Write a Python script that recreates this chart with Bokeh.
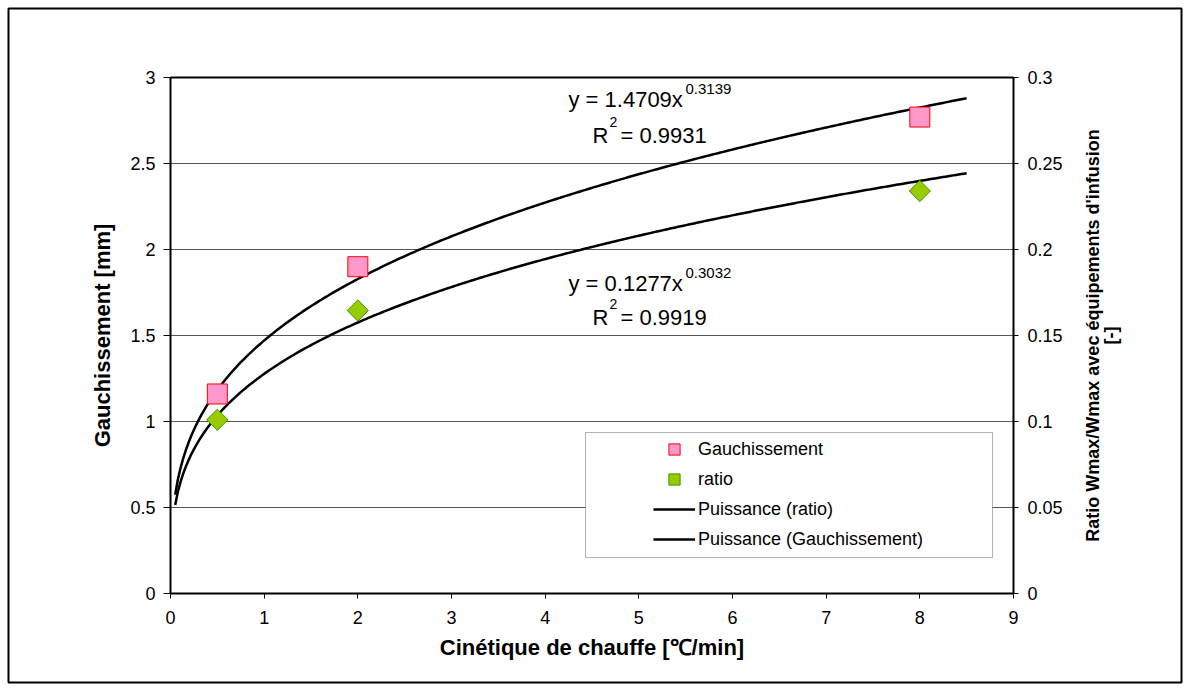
import numpy as np
from bokeh.plotting import figure
from bokeh.models import (Range1d, LinearAxis, FixedTicker, Label, Legend, LegendItem,
                          BoxAnnotation)
from bokeh.embed import file_html
from bokeh.resources import INLINE

# ---------------- data ----------------
x_rate = [0.5, 2.0, 8.0]                 # Cinétique de chauffe [°C/min]
gauchissement = [1.16, 1.90, 2.77]       # mm (left axis)
ratio = [0.101, 0.1645, 0.234]           # [-] (right axis)

# power trendlines as displayed on the chart
g_coef, g_exp, g_r2 = 1.4709, 0.3139, 0.9931
r_coef, r_exp, r_r2 = 0.1277, 0.3032, 0.9919
fit_x_start, fit_x_end = 0.05, 8.5

x_ticks = [0, 1, 2, 3, 4, 5, 6, 7, 8, 9]
x_tick_labels = ["0", "1", "2", "3", "4", "5", "6", "7", "8", "9"]
y_ticks = [0, 0.5, 1, 1.5, 2, 2.5, 3]
y_tick_labels = ["0", "0.5", "1", "1.5", "2", "2.5", "3"]
y2_ticks = [0, 0.05, 0.1, 0.15, 0.2, 0.25, 0.3]
y2_tick_labels = ["0", "0.05", "0.1", "0.15", "0.2", "0.25", "0.3"]
y2_title = ["Ratio Wmax/Wmax avec équipements d'infusion", "[-]"]

X_MIN, X_MAX = 0, 9
Y_MIN, Y_MAX = 0, 3
Y2_MIN, Y2_MAX = 0, 0.3

FONT = "Liberation Sans"

fit_x = np.linspace(fit_x_start, fit_x_end, 300)
g_fit = g_coef * fit_x ** g_exp
r_fit = r_coef * fit_x ** r_exp

# The figure frame is the outer chart border; the plot area (0..9 x 0..3) sits inside it.
# plot area in pixels: x 170..1013, y 77..593 ; outer border: x 8..1181, y 8..682
px_per_x = (1013 - 170) / (X_MAX - X_MIN)
px_per_y = (593 - 77) / (Y_MAX - Y_MIN)
xr = Range1d(X_MIN - (170 - 8) / px_per_x, X_MAX + (1181 - 1013) / px_per_x)
yr = Range1d(Y_MIN - (682 - 593) / px_per_y, Y_MAX + (77 - 8) / px_per_y)
k2 = (Y2_MAX - Y2_MIN) / (Y_MAX - Y_MIN)

p = figure(width=1189, height=690, output_backend="svg", toolbar_location=None,
           x_range=xr, y_range=yr, x_axis_location=None, y_axis_location=None,
           min_border_left=8, min_border_right=8, min_border_top=8, min_border_bottom=8)
p.extra_y_ranges = {"right": Range1d(Y2_MIN + (yr.start - Y_MIN) * k2, Y2_MIN + (yr.end - Y_MIN) * k2)}

p.outline_line_color = "black"
p.outline_line_width = 2
p.background_fill_color = "white"
p.border_fill_color = "white"

p.xgrid.visible = False
p.ygrid.visible = False

# horizontal gridlines, limited to the plot area
grid_y = [t for t in y_ticks if Y_MIN < t < Y_MAX]
p.segment(x0=[X_MIN] * len(grid_y), y0=grid_y, x1=[X_MAX] * len(grid_y), y1=grid_y,
          line_color="#555555", line_width=1)

def style_axis(ax):
    ax.axis_line_width = 2
    ax.axis_line_color = "black"
    ax.major_tick_line_color = "black"
    ax.major_tick_line_width = 1
    ax.major_tick_in = 0
    ax.minor_tick_line_color = None
    ax.major_label_text_font = FONT
    ax.major_label_text_font_size = "18px"
    ax.major_label_text_color = "black"
    ax.axis_label_text_font = FONT
    ax.axis_label_text_font_size = "22px"
    ax.axis_label_text_font_style = "bold"
    ax.axis_label_text_color = "black"

xa = LinearAxis(fixed_location=Y_MIN, bounds=(X_MIN, X_MAX))
style_axis(xa)
xa.ticker = FixedTicker(ticks=x_ticks)
xa.major_label_overrides = dict(zip(x_ticks, x_tick_labels))
xa.major_tick_out = 5
xa.major_label_standoff = 12
xa.axis_label = "Cinétique de chauffe [℃/min]"
xa.axis_label_standoff = 8
p.add_layout(xa, "below")

ya = LinearAxis(fixed_location=X_MIN, bounds=(Y_MIN, Y_MAX))
style_axis(ya)
ya.ticker = FixedTicker(ticks=y_ticks)
ya.major_label_overrides = dict(zip(y_ticks, y_tick_labels))
ya.major_tick_out = 7
ya.major_label_standoff = 8
ya.axis_label = "Gauchissement [mm]"
ya.axis_label_standoff = 12
p.add_layout(ya, "left")

ya2 = LinearAxis(y_range_name="right", fixed_location=X_MAX, bounds=(Y2_MIN, Y2_MAX))
style_axis(ya2)
ya2.ticker = FixedTicker(ticks=y2_ticks)
ya2.major_label_overrides = dict(zip(y2_ticks, y2_tick_labels))
ya2.major_tick_out = 5
ya2.major_label_standoff = 9
p.add_layout(ya2, "right")

# top edge of the plot area
xt = LinearAxis(fixed_location=Y_MAX, bounds=(X_MIN, X_MAX), ticker=FixedTicker(ticks=[]),
                major_label_text_font_size="0px", axis_line_width=2, axis_line_color="black",
                major_tick_line_color=None, minor_tick_line_color=None)
p.add_layout(xt, "above")

# trendlines
r_fit_r = p.line(fit_x, r_fit, y_range_name="right", line_color="black", line_width=2.5)
g_fit_r = p.line(fit_x, g_fit, line_color="black", line_width=2.5)

# points
sq = p.scatter(x_rate, gauchissement, marker="square", size=20,
               fill_color="#FF99CC", line_color="#FF0000", line_width=1)
di = p.scatter(x_rate, ratio, y_range_name="right", marker="square", angle=np.pi / 4,
               size=15, fill_color="#99CC00", line_color="#339900", line_width=1)

# right axis title (reads bottom-to-top)
for txt, px in zip(y2_title, [1092, 1110]):
    p.add_layout(Label(x=X_MIN + (px - 170) / px_per_x, y=(Y_MIN + Y_MAX) / 2,
                       text=txt, angle=np.pi / 2,
                       text_align="center", text_baseline="middle", text_font=FONT,
                       text_font_size="18px", text_font_style="bold", text_color="black"))

# equations
def eq_label(x, y, text, size):
    p.add_layout(Label(x=x, y=y, text=text, text_font=FONT, text_font_size=size,
                       text_color="black", text_baseline="alphabetic", text_align="left"))

eq_label(4.249, 2.875, "y = %.4fx" % g_coef, "22px")
eq_label(5.498, 2.935, "%.4f" % g_exp, "15px")
eq_label(4.505, 2.660, "R", "22px")
eq_label(4.687, 2.740, "2", "14px")
eq_label(4.804, 2.660, "= %.4f" % g_r2, "22px")

eq_label(4.249, 1.805, "y = %.4fx" % r_coef, "22px")
eq_label(5.498, 1.865, "%.4f" % r_exp, "15px")
eq_label(4.505, 1.605, "R", "22px")
eq_label(4.687, 1.685, "2", "14px")
eq_label(4.804, 1.605, "= %.4f" % r_r2, "22px")

# legend frame
p.add_layout(BoxAnnotation(left=4.431, right=8.776, top=0.936, bottom=0.209,
                           fill_color="white", fill_alpha=1, line_color="black", line_width=1))

legend = Legend(items=[
    LegendItem(label="Gauchissement", renderers=[sq]),
    LegendItem(label="ratio", renderers=[di]),
    LegendItem(label="Puissance (ratio)", renderers=[r_fit_r]),
    LegendItem(label="Puissance (Gauchissement)", renderers=[g_fit_r]),
], location=(645, 129))
legend.border_line_color = None
legend.background_fill_alpha = 0
legend.padding = 2
legend.spacing = 2
legend.glyph_height = 28
legend.glyph_width = 42
legend.label_height = 28
legend.label_standoff = 3
legend.label_text_font = FONT
legend.label_text_font_size = "18px"
legend.label_text_color = "black"
legend.margin = 0
p.add_layout(legend, "center")

open("out.html", "w").write(file_html(p, INLINE))
